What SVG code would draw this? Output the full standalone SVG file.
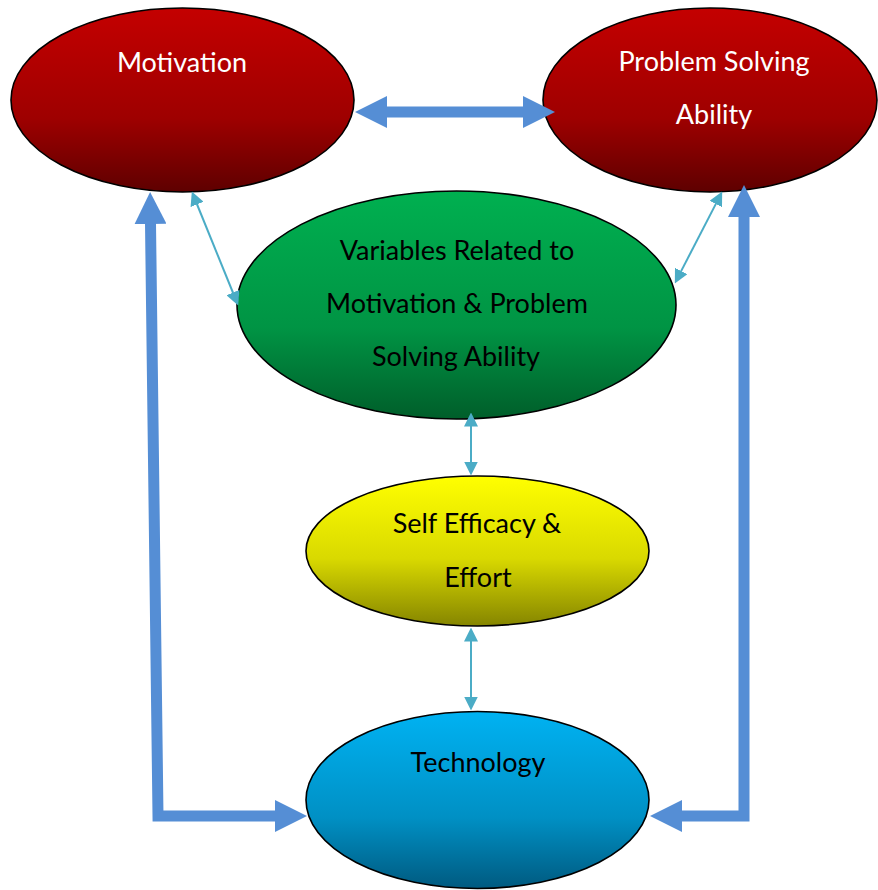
<svg xmlns="http://www.w3.org/2000/svg" width="878" height="890" viewBox="0 0 878 890">
<style>
.node{stroke:#000;stroke-width:1.6}
.lbl{font-family:Lato,"Open Sans","Liberation Sans",sans-serif;font-size:27px;text-anchor:middle}
.w{fill:#fff}
.k{fill:#000}
.thick{fill:none;stroke:#558ED5;stroke-width:11;stroke-linejoin:miter;stroke-linecap:butt}
.thin{fill:none;stroke:#4BACC6;stroke-width:2}
</style>
<defs>
<linearGradient id="gRed" x1="0" y1="0" x2="0" y2="1"><stop offset="0" stop-color="#C40000"/><stop offset="0.6" stop-color="#9E0000"/><stop offset="1" stop-color="#5E0000"/></linearGradient>
<linearGradient id="gGreen" x1="0" y1="0" x2="0" y2="1"><stop offset="0" stop-color="#00B050"/><stop offset="0.6" stop-color="#009444"/><stop offset="1" stop-color="#005E2A"/></linearGradient>
<linearGradient id="gYellow" x1="0" y1="0" x2="0" y2="1"><stop offset="0" stop-color="#FFFF00"/><stop offset="0.55" stop-color="#D9D900"/><stop offset="1" stop-color="#858500"/></linearGradient>
<linearGradient id="gBlue" x1="0" y1="0" x2="0" y2="1"><stop offset="0" stop-color="#00B2F2"/><stop offset="0.6" stop-color="#0090C4"/><stop offset="1" stop-color="#005A80"/></linearGradient>
<marker id="headThick" viewBox="0 0 32 32" markerUnits="userSpaceOnUse" markerWidth="32" markerHeight="32" refX="1" refY="16" orient="auto-start-reverse"><path d="M0,0 L32,16 L0,32 Z" fill="#558ED5"/></marker>
<marker id="headThin" viewBox="0 0 14 14" markerUnits="userSpaceOnUse" markerWidth="14" markerHeight="14" refX="0.5" refY="7" orient="auto-start-reverse"><path d="M0,0 L14,7 L0,14 Z" fill="#4BACC6"/></marker>
</defs>
<g id="motivation">
<ellipse class="node" cx="182.5" cy="100" rx="171.5" ry="92" fill="url(#gRed)"/>
<text class="lbl w" x="182" y="72">Motivation</text>
</g>
<g id="problem-solving">
<ellipse class="node" cx="710" cy="100" rx="167" ry="92" fill="url(#gRed)"/>
<text class="lbl w" x="714" y="71">Problem Solving</text>
<text class="lbl w" x="714" y="124">Ability</text>
</g>
<g id="variables">
<ellipse class="node" cx="456.5" cy="305" rx="219.5" ry="114" fill="url(#gGreen)"/>
<text class="lbl k" x="457" y="260">Variables Related to</text>
<text class="lbl k" x="457" y="313">Motivation &amp; Problem</text>
<text class="lbl k" x="456" y="366">Solving Ability</text>
</g>
<g id="self-efficacy">
<ellipse class="node" cx="477.5" cy="551" rx="171.5" ry="75" fill="url(#gYellow)"/>
<text class="lbl k" x="477" y="533">Self Efficacy &amp;</text>
<text class="lbl k" x="478" y="587">Effort</text>
</g>
<g id="technology">
<ellipse class="node" cx="477.5" cy="800" rx="171.5" ry="88.5" fill="url(#gBlue)"/>
<text class="lbl k" x="478" y="772">Technology</text>
</g>
<g id="connectors">
<path class="thick" d="M386,112 L524,112" marker-start="url(#headThick)" marker-end="url(#headThick)"/>
<path class="thick" d="M150.5,223 L158,816 L276,816" marker-start="url(#headThick)" marker-end="url(#headThick)"/>
<path class="thick" d="M744,216 L744,816 L681,816" marker-start="url(#headThick)" marker-end="url(#headThick)"/>
<path class="thin" d="M196.9,204 L233.1,293" marker-start="url(#headThin)" marker-end="url(#headThin)"/>
<path class="thin" d="M716,203.6 L681,271.4" marker-start="url(#headThin)" marker-end="url(#headThin)"/>
<path class="thin" d="M471,426 L471,462" marker-start="url(#headThin)" marker-end="url(#headThin)"/>
<path class="thin" d="M471,641 L471,697" marker-start="url(#headThin)" marker-end="url(#headThin)"/>
</g>
</svg>
